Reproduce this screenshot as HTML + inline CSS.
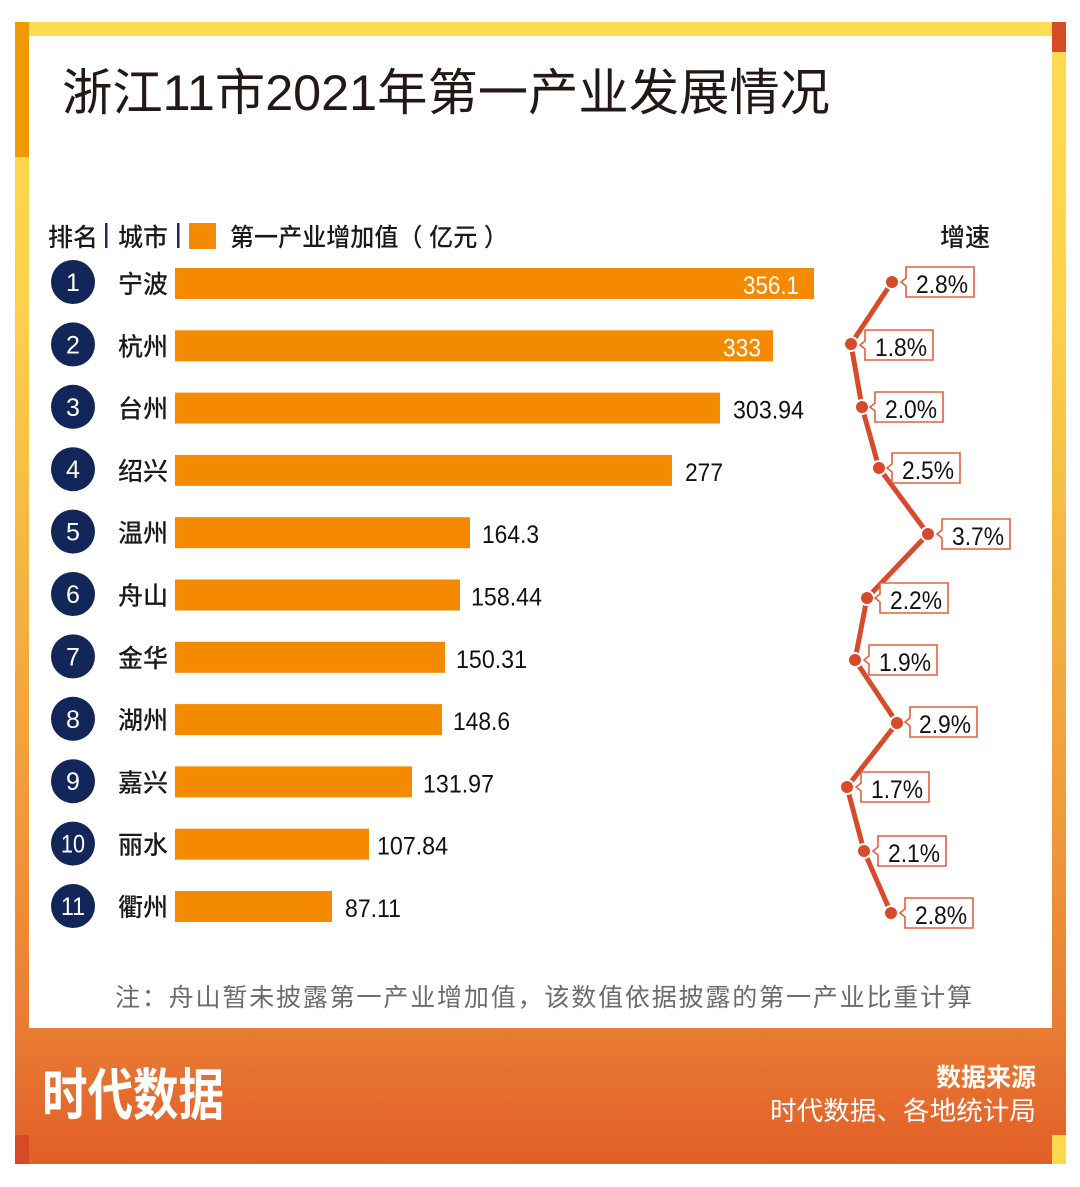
<!DOCTYPE html>
<html>
<head>
<meta charset="utf-8">
<style>
  html,body{margin:0;padding:0;background:#fff;}
  svg{display:block;}
  .cjk{font-family:"Liberation Sans","Noto Sans CJK SC",sans-serif;}
  .num{font-family:"Liberation Sans","Noto Sans CJK SC",sans-serif;}
</style>
</head>
<body>
<svg width="1080" height="1187" viewBox="0 0 1080 1187" xmlns="http://www.w3.org/2000/svg">
  <defs>
    <linearGradient id="frame" x1="0" y1="22" x2="0" y2="1164" gradientUnits="userSpaceOnUse">
      <stop offset="0" stop-color="#FFDC50"/>
      <stop offset="0.25" stop-color="#FCD14C"/>
      <stop offset="0.42" stop-color="#F6BC45"/>
      <stop offset="0.7" stop-color="#EF9A3A"/>
      <stop offset="0.88" stop-color="#E97C33"/>
      <stop offset="1" stop-color="#E25E28"/>
    </linearGradient>
  </defs>
  <rect x="0" y="0" width="1080" height="1187" fill="#fff"/>
  <!-- frame -->
  <rect x="15" y="22" width="1051" height="1142" fill="url(#frame)"/>
  <rect x="29" y="36" width="1023" height="992" fill="#fff"/>
  <rect x="15" y="22" width="14" height="135" fill="#EE9A00"/>
  <rect x="1052" y="22" width="14" height="30" fill="#D64A25"/>
  <rect x="15" y="1135" width="14" height="29" fill="#D64A25"/>
  <rect x="1052" y="1135" width="14" height="29" fill="#FFD84D"/>

  <!-- title -->
  <text x="62" y="110" class="cjk" font-size="50" fill="#231815" textLength="768" lengthAdjust="spacingAndGlyphs">浙江11市2021年第一产业发展情况</text>

  <!-- header -->
  <g class="cjk" font-size="25" font-weight="500" fill="#1a1a1a">
    <text x="48" y="246">排名</text>
    <rect x="105" y="223" width="2.5" height="25" fill="#1B2B5E"/>
    <text x="118" y="246">城市</text>
    <rect x="177" y="223" width="2.5" height="25" fill="#1B2B5E"/>
    <rect x="189" y="223" width="27" height="26" fill="#F38A00"/>
    <text x="230" y="246" textLength="278" lengthAdjust="spacingAndGlyphs">第一产业增加值（ 亿元 ）</text>
    <text x="940" y="246">增速</text>
  </g>

  <!-- rows -->
  <g fill="#132659">
    <circle cx="73" cy="282" r="22"/>
    <circle cx="73" cy="344.4" r="22"/>
    <circle cx="73" cy="406.8" r="22"/>
    <circle cx="73" cy="469.2" r="22"/>
    <circle cx="73" cy="531.6" r="22"/>
    <circle cx="73" cy="594" r="22"/>
    <circle cx="73" cy="656.4" r="22"/>
    <circle cx="73" cy="718.8" r="22"/>
    <circle cx="73" cy="781.2" r="22"/>
    <circle cx="73" cy="843.6" r="22"/>
    <circle cx="73" cy="906" r="22"/>
  </g>
  <g class="num" font-size="25" fill="#fff" text-anchor="middle">
    <text x="73" y="291">1</text>
    <text x="73" y="353.4">2</text>
    <text x="73" y="415.8">3</text>
    <text x="73" y="478.2">4</text>
    <text x="73" y="540.6">5</text>
    <text x="73" y="603">6</text>
    <text x="73" y="665.4">7</text>
    <text x="73" y="727.8">8</text>
    <text x="73" y="790.2">9</text>
    <text x="73" y="852.6" textLength="24" lengthAdjust="spacingAndGlyphs">10</text>
    <text x="73" y="915" textLength="24" lengthAdjust="spacingAndGlyphs">11</text>
  </g>
  <g class="cjk" font-size="25" font-weight="500" fill="#1a1a1a">
    <text x="118" y="293">宁波</text>
    <text x="118" y="355.3">杭州</text>
    <text x="118" y="417.6">台州</text>
    <text x="118" y="479.9">绍兴</text>
    <text x="118" y="542.2">温州</text>
    <text x="118" y="604.5">舟山</text>
    <text x="118" y="666.8">金华</text>
    <text x="118" y="729.1">湖州</text>
    <text x="118" y="791.4">嘉兴</text>
    <text x="118" y="853.7">丽水</text>
    <text x="118" y="916">衢州</text>
  </g>
  <g fill="#F38A00">
    <rect x="175" y="268" width="639" height="31"/>
    <rect x="175" y="330.3" width="598" height="31"/>
    <rect x="175" y="392.6" width="545" height="31"/>
    <rect x="175" y="454.9" width="497" height="31"/>
    <rect x="175" y="517.2" width="295" height="31"/>
    <rect x="175" y="579.5" width="285" height="31"/>
    <rect x="175" y="641.8" width="270" height="31"/>
    <rect x="175" y="704.1" width="267" height="31"/>
    <rect x="175" y="766.4" width="237" height="31"/>
    <rect x="175" y="828.7" width="194" height="31"/>
    <rect x="175" y="891" width="157" height="31"/>
  </g>
  <g class="num" font-size="25">
    <text x="743" y="294" fill="#fff" textLength="56" lengthAdjust="spacingAndGlyphs">356.1</text>
    <text x="723" y="356.3" fill="#fff" textLength="38" lengthAdjust="spacingAndGlyphs">333</text>
    <text x="733" y="418.6" fill="#111" textLength="71" lengthAdjust="spacingAndGlyphs">303.94</text>
    <text x="685" y="480.9" fill="#111" textLength="38" lengthAdjust="spacingAndGlyphs">277</text>
    <text x="482" y="543.2" fill="#111" textLength="57" lengthAdjust="spacingAndGlyphs">164.3</text>
    <text x="471" y="605.5" fill="#111" textLength="71" lengthAdjust="spacingAndGlyphs">158.44</text>
    <text x="456" y="667.8" fill="#111" textLength="71" lengthAdjust="spacingAndGlyphs">150.31</text>
    <text x="453" y="730.1" fill="#111" textLength="57" lengthAdjust="spacingAndGlyphs">148.6</text>
    <text x="423" y="792.4" fill="#111" textLength="71" lengthAdjust="spacingAndGlyphs">131.97</text>
    <text x="377" y="854.7" fill="#111" textLength="71" lengthAdjust="spacingAndGlyphs">107.84</text>
    <text x="345" y="917" fill="#111" textLength="56" lengthAdjust="spacingAndGlyphs">87.11</text>
  </g>

  <!-- growth line -->
  <polyline points="892,282 851,344 862,407 879,468 928,534 867,598 855,660 897,723 847,787 864,851 891,913" fill="none" stroke="#D84A2A" stroke-width="5" stroke-linejoin="round"/>
  <g fill="#D84A2A" stroke="#fff" stroke-width="2">
    <circle cx="892" cy="282" r="7"/>
    <circle cx="851" cy="344" r="7"/>
    <circle cx="862" cy="407" r="7"/>
    <circle cx="879" cy="468" r="7"/>
    <circle cx="928" cy="534" r="7"/>
    <circle cx="867" cy="598" r="7"/>
    <circle cx="855" cy="660" r="7"/>
    <circle cx="897" cy="723" r="7"/>
    <circle cx="847" cy="787" r="7"/>
    <circle cx="864" cy="851" r="7"/>
    <circle cx="891" cy="913" r="7"/>
  </g>
  <g fill="#fff" stroke="#E0603F" stroke-width="1.6">
    <path d="M906,267 H974 V297 H906 V286 L901,282 L906,278 Z"/>
    <path d="M865,330 H933 V360 H865 V349 L860,345 L865,341 Z"/>
    <path d="M875,392 H943 V422 H875 V411 L870,407 L875,403 Z"/>
    <path d="M892,453 H960 V483 H892 V472 L887,468 L892,464 Z"/>
    <path d="M942,519 H1010 V549 H942 V538 L937,534 L942,530 Z"/>
    <path d="M880,583 H948 V613 H880 V602 L875,598 L880,594 Z"/>
    <path d="M869,645 H937 V675 H869 V664 L864,660 L869,656 Z"/>
    <path d="M910,707 H977 V737 H910 V726 L905,722 L910,718 Z"/>
    <path d="M861,772 H929 V802 H861 V791 L856,787 L861,783 Z"/>
    <path d="M878,836 H946 V866 H878 V855 L873,851 L878,847 Z"/>
    <path d="M905,898 H973 V928 H905 V917 L900,913 L905,909 Z"/>
  </g>
  <g class="num" font-size="25" fill="#111" text-anchor="middle">
    <text x="942" y="293" textLength="52" lengthAdjust="spacingAndGlyphs">2.8%</text>
    <text x="901" y="356" textLength="52" lengthAdjust="spacingAndGlyphs">1.8%</text>
    <text x="911" y="418" textLength="52" lengthAdjust="spacingAndGlyphs">2.0%</text>
    <text x="928" y="479" textLength="52" lengthAdjust="spacingAndGlyphs">2.5%</text>
    <text x="978" y="545" textLength="52" lengthAdjust="spacingAndGlyphs">3.7%</text>
    <text x="916" y="609" textLength="52" lengthAdjust="spacingAndGlyphs">2.2%</text>
    <text x="905" y="671" textLength="52" lengthAdjust="spacingAndGlyphs">1.9%</text>
    <text x="945" y="733" textLength="52" lengthAdjust="spacingAndGlyphs">2.9%</text>
    <text x="897" y="798" textLength="52" lengthAdjust="spacingAndGlyphs">1.7%</text>
    <text x="914" y="862" textLength="52" lengthAdjust="spacingAndGlyphs">2.1%</text>
    <text x="941" y="924" textLength="52" lengthAdjust="spacingAndGlyphs">2.8%</text>
  </g>

  <!-- note -->
  <text x="115" y="1006" class="cjk" font-size="25" fill="#6b6b6b" textLength="857" lengthAdjust="spacing">注：舟山暂未披露第一产业增加值，该数值依据披露的第一产业比重计算</text>

  <!-- footer -->
  <text x="42" y="1115" class="cjk" font-size="56" font-weight="bold" fill="#fff" textLength="182" lengthAdjust="spacingAndGlyphs">时代数据</text>
  <text x="1036" y="1086" class="cjk" font-size="25" font-weight="bold" fill="#fff" text-anchor="end">数据来源</text>
  <text x="770" y="1120" class="cjk" font-size="26" fill="#fff" textLength="266" lengthAdjust="spacingAndGlyphs">时代数据、各地统计局</text>
</svg>
</body>
</html>
